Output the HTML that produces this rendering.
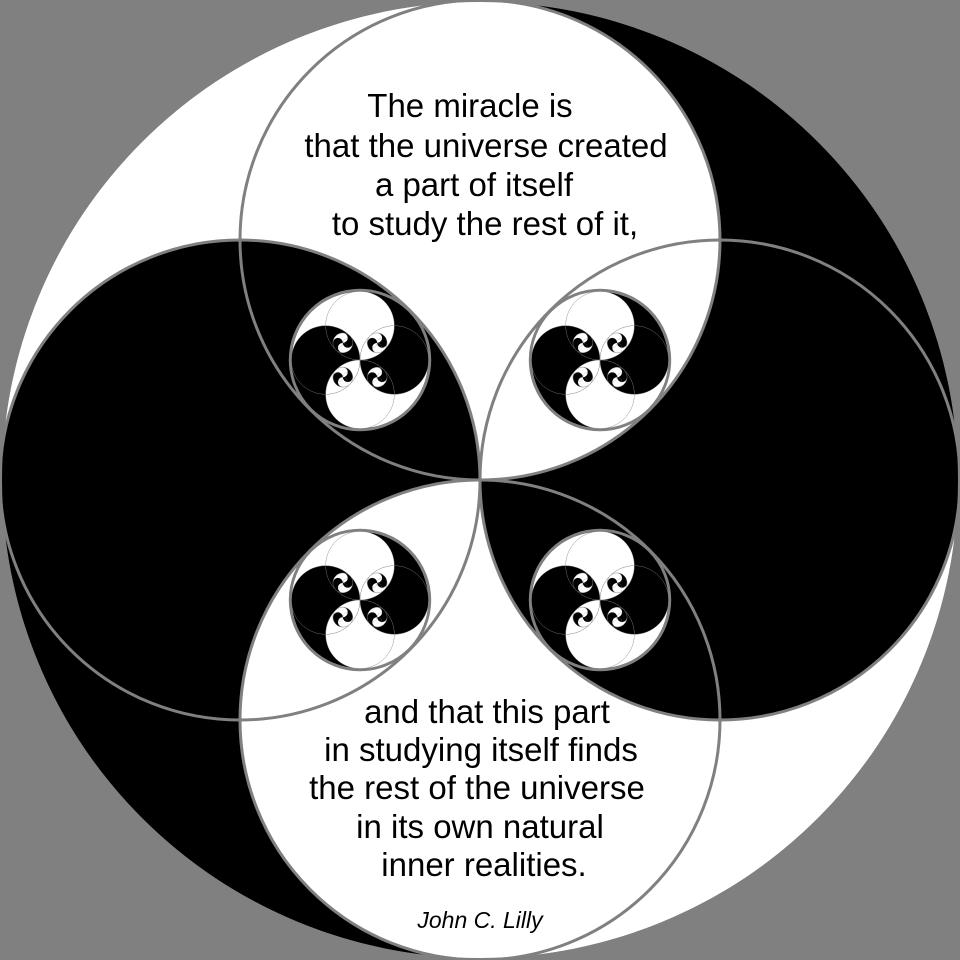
<!DOCTYPE html>
<html><head><meta charset="utf-8"><style>
html,body{margin:0;padding:0;background:#808080;}
svg{display:block;}
text{font-family:"Liberation Sans",sans-serif;fill:#000;}
</style></head><body>
<svg width="960" height="960" viewBox="0 0 960 960" xmlns="http://www.w3.org/2000/svg">
<defs>
<clipPath id="cR" clipPathUnits="userSpaceOnUse"><circle cx="240" cy="0" r="240"/></clipPath>
<clipPath id="cB" clipPathUnits="userSpaceOnUse"><circle cx="0" cy="240" r="240"/></clipPath>
<clipPath id="cL" clipPathUnits="userSpaceOnUse"><circle cx="-240" cy="0" r="240"/></clipPath>
<g id="P0">
<path d="M0,0 L-478,0 A478,478 0 0 1 0,-478 Z" fill="#fff"/>
<path d="M0,0 L0,-478 A478,478 0 0 1 478,0 Z" fill="#000"/>
<path d="M0,0 L478,0 A478,478 0 0 1 0,478 Z" fill="#fff"/>
<path d="M0,0 L0,478 A478,478 0 0 1 -478,0 Z" fill="#000"/>
<circle cx="0" cy="-240" r="240" fill="#fff"/>
<circle cx="240" cy="0" r="240" fill="#000"/>
<circle cx="0" cy="240" r="240" fill="#fff"/>
<circle cx="-240" cy="0" r="240" fill="#000"/>
<circle cx="0" cy="-240" r="240" fill="#fff" clip-path="url(#cR)"/>
<circle cx="240" cy="0" r="240" fill="#000" clip-path="url(#cB)"/>
<circle cx="0" cy="240" r="240" fill="#fff" clip-path="url(#cL)"/>
<g fill="none" stroke="#808080" stroke-width="3">
<circle cx="0" cy="-240" r="240"/>
<circle cx="240" cy="0" r="240"/>
<circle cx="0" cy="240" r="240"/>
<circle cx="-240" cy="0" r="240"/>
</g>
<circle cx="0" cy="0" r="488" fill="none" stroke="#808080" stroke-width="20"/>
</g>
<g id="P1">
<use href="#P0"/>
<use href="#P0" transform="translate(-120,-120) scale(0.143)"/>
<use href="#P0" transform="translate(120,-120) scale(0.143)"/>
<use href="#P0" transform="translate(-120,120) scale(0.143)"/>
<use href="#P0" transform="translate(120,120) scale(0.143)"/>
</g>
<g id="P2">
<use href="#P0"/>
<use href="#P1" transform="translate(-120,-120) scale(0.143)"/>
<use href="#P1" transform="translate(120,-120) scale(0.143)"/>
<use href="#P1" transform="translate(-120,120) scale(0.143)"/>
<use href="#P1" transform="translate(120,120) scale(0.143)"/>
</g>
</defs>
<rect width="960" height="960" fill="#808080"/>
<use href="#P2" transform="translate(480,480)"/>
<g font-size="33" text-anchor="middle">
<text x="470" y="117">The miracle is</text>
<text x="486" y="157">that the universe created</text>
<text x="474" y="196">a part of itself</text>
<text x="485" y="235">to study the rest of it,</text>
<text x="487" y="723">and that this part</text>
<text x="481" y="761">in studying itself finds</text>
<text x="477" y="799">the rest of the universe</text>
<text x="480" y="838">in its own natural</text>
<text x="484" y="876">inner realities.</text>
</g>
<text x="480" y="928" font-size="23" font-style="italic" text-anchor="middle">John C. Lilly</text>
</svg>
</body></html>
